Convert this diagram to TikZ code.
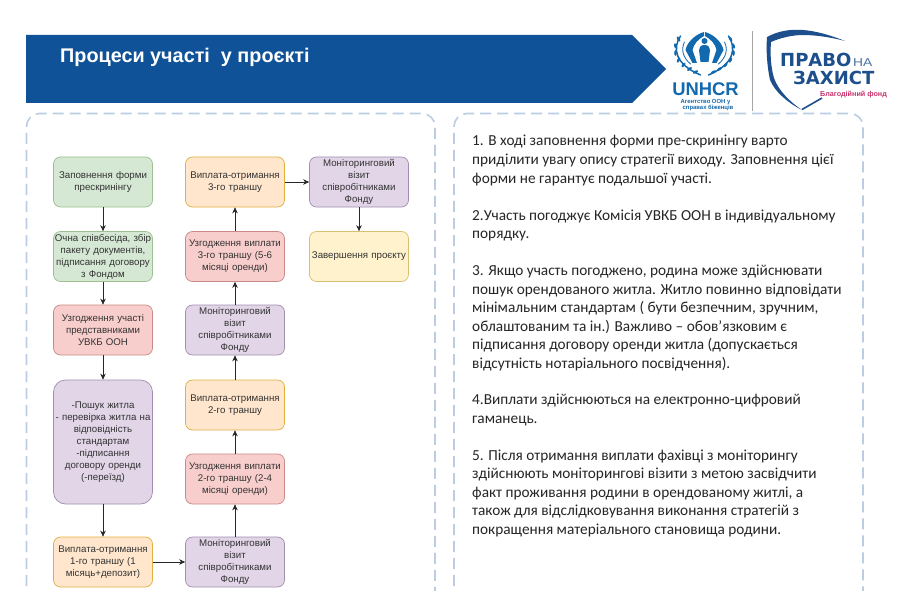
\documentclass[tikz,border=0pt]{standalone}
\usepackage{fontspec}
\setmainfont{Liberation Sans}
\newfontfamily\calib{Carlito}
\newfontfamily\dvb{DejaVu Sans Bold}
\newfontfamily\naf[FakeStretch=1.2]{Liberation Sans}
\usetikzlibrary{arrows.meta}
\definecolor{bann}{HTML}{0F5298}
\definecolor{dashc}{HTML}{BCCDE3}
\definecolor{gf}{HTML}{D5E8D4}\definecolor{gd}{HTML}{9DBF8F}
\definecolor{rf}{HTML}{F8CECC}\definecolor{rd}{HTML}{C98A87}
\definecolor{pf}{HTML}{E1D5E7}\definecolor{pd}{HTML}{A08FB0}
\definecolor{of}{HTML}{FFE6CC}\definecolor{od}{HTML}{E0B040}
\definecolor{yf}{HTML}{FFF2CC}\definecolor{yd}{HTML}{D9C070}
\definecolor{txt}{HTML}{333333}
\definecolor{unb}{HTML}{1269AE}
\definecolor{pz}{HTML}{1D4F8C}
\definecolor{pzr}{HTML}{C8326A}
\tikzset{
 flow/.style={draw,rounded corners=7pt,line width=0.7pt,minimum width=99pt,minimum height=50pt,inner sep=0pt,align=center,text width=99pt,font=\fontsize{9.7}{12}\selectfont,text=txt},
 gbox/.style={flow,fill=gf,draw=gd},
 rbox/.style={flow,fill=rf,draw=rd},
 pbox/.style={flow,fill=pf,draw=pd},
 obox/.style={flow,fill=of,draw=od},
 ybox/.style={flow,fill=yf,draw=yd},
 link/.style={draw=black!85,line width=0.7pt,-{Stealth[length=6pt,width=5.5pt]}},
 frame/.style={draw=dashc,line width=1.6pt,dash pattern=on 11pt off 6pt,rounded corners=13pt},
 para/.style={anchor=base west,inner sep=0pt,font=\calib\fontsize{15.3}{18.5}\selectfont,text=black!85}
}
\begin{document}
\begin{tikzpicture}[x=1pt,y=-1pt]
\useasboundingbox (0,0) rectangle (900,591);
\fill[white] (0,0) rectangle (900,591);
% banner
\fill[bann] (26,35) -- (632,35) -- (666,69) -- (632,103) -- (26,103) -- cycle;
\node[anchor=base west,inner sep=0pt,text=white,font=\bfseries\fontsize{19.8}{22}\selectfont] (title) at (60,63) {Процеси участі\ \ у проєкті};
% frames
\begin{scope}
\clip (0,0) rectangle (900,591);
\draw[frame] (26.5,620) -- (26.5,113.5) -- (435,113.5) -- (435,620);
\draw[frame] (454,620) -- (454,113.5) -- (863,113.5) -- (863,620);
\end{scope}
% flow
\node[gbox] (a1) at (103,182) {Заповнення форми\\[0.5pt]прескринінгу};
\node[gbox] (a2) at (103,256.5) {Очна співбесіда, збір\\пакету документів,\\підписання договору\\з Фондом};
\node[rbox] (a3) at (103,330) {Узгодження участі\\представниками\\УВКБ ООН};
\node[pbox,minimum height=124pt,rounded corners=12pt] (a4) at (103,442) {-Пошук житла\\- перевірка житла на\\відповідність\\стандартам\\-підписання\\договору оренди\\(-переїзд)};
\node[obox] (a5) at (103,562) {Виплата-отримання\\1-го траншу (1\\місяць+депозит)};
\node[pbox] (b1) at (235,562) {Моніторинговий\\візит\\співробітниками\\Фонду};
\node[rbox] (b2) at (235,479) {Узгодження виплати\\2-го траншу (2-4\\місяці оренди)};
\node[obox] (b3) at (235,405) {Виплата-отримання\\2-го траншу};
\node[pbox] (b4) at (235,330) {Моніторинговий\\візит\\співробітниками\\Фонду};
\node[rbox] (b5) at (235,256.5) {Узгодження виплати\\3-го траншу (5-6\\місяці оренди)};
\node[obox] (b6) at (235,182) {Виплата-отримання\\3-го траншу};
\node[pbox] (c1) at (359,182) {Моніторинговий\\візит\\співробітниками\\Фонду};
\node[ybox] (c2) at (359,256.5) {Завершення проєкту};
\draw[link] (a1) -- (a2);
\draw[link] (a2) -- (a3);
\draw[link] (a3) -- (a4);
\draw[link] (a4) -- (a5);
\draw[link] (a5) -- (b1);
\draw[link] (b1) -- (b2);
\draw[link] (b2) -- (b3);
\draw[link] (b3) -- (b4);
\draw[link] (b4) -- (b5);
\draw[link] (b5) -- (b6);
\draw[link] (b6) -- (c1);
\draw[link] (c1) -- (c2);
% right text
\node[para] (t1) at (472,146) {1. В ході заповнення форми пре-скринінгу варто};
\node[para] (t2) at (472,164.5) {приділити увагу опису стратегії виходу. Заповнення цієї};
\node[para] (t3) at (472,183) {форми не гарантує подальшої участі.};
\node[para] (t4) at (472,220) {2.Участь погоджує Комісія УВКБ ООН в індивідуальному};
\node[para] (t5) at (472,238) {порядку.};
\node[para] (t6) at (472,275) {3. Якщо участь погоджено, родина може здійснювати};
\node[para] (t7) at (472,294) {пошук орендованого житла. Житло повинно відповідати};
\node[para] (t8) at (472,312) {мінімальним стандартам ( бути безпечним, зручним,};
\node[para] (t9) at (472,331) {облаштованим та ін.) Важливо – обов’язковим є};
\node[para] (t10) at (472,349) {підписання договору оренди житла (допускається};
\node[para] (t11) at (472,368) {відсутність нотаріального посвідчення).};
\node[para] (t12) at (472,404) {4.Виплати здійснюються на електронно-цифровий};
\node[para] (t13) at (472,423) {гаманець.};
\node[para] (t14) at (472,460) {5. Після отримання виплати фахівці з моніторингу};
\node[para] (t15) at (472,478) {здійснюють моніторингові візити з метою засвідчити};
\node[para] (t16) at (472,497) {факт проживання родини в орендованому житлі, а};
\node[para] (t17) at (472,515) {також для відслідковування виконання стратегій з};
\node[para] (t18) at (472,534) {покращення матеріального становища родини.};
% UNHCR logo
\foreach \s/\c in {1/704.5,-1/704.5}{
 \begin{scope}[shift={(\c,0)},x=\s pt]
  \fill[unb] (-0.5,32) .. controls (-8,34) and (-17,41) .. (-19,50) -- (-12,63) -- (-7.5,63) -- (-12,50) .. controls (-11,44) and (-6,39) .. (-0.5,36) -- cycle;
  \draw[unb,line width=0.8pt,line cap=round] (-20,42) .. controls (-24,50) and (-21,58) .. (-14,64);
  \draw[unb,line width=1.5pt,line cap=round] (-24,36) .. controls (-32,48) and (-30,64) .. (-4,75);
  \foreach \q/\a in {(-26,39)/-60,(-29,46)/-75,(-29,53)/-90,(-26,60)/-115,(-21,65)/-130,(-15,69)/-145,(-9,72)/-155}
   \fill[unb,rotate around={\a:\q}] \q ellipse (2.8 and 1.3);
 \end{scope}
}
\fill[unb] (704.5,41) circle (3);
\fill[unb] (704.5,45) .. controls (701,45) and (699,47) .. (699,50) -- (700.5,62) -- (708.5,62) -- (710,50) .. controls (710,47) and (708,45) .. (704.5,45) -- cycle;
\node[anchor=base,inner sep=0pt,text=unb,font=\bfseries\fontsize{18.4}{19}\selectfont] (unhcr) at (705.5,95.5) {UNHCR};
\node[anchor=base,inner sep=0pt,text=unb,font=\bfseries\fontsize{5.9}{7}\selectfont] (ag1) at (705.5,103.5) {Агентство ООН у};
\node[anchor=base,inner sep=0pt,text=unb,font=\bfseries\fontsize{5.9}{7}\selectfont] (ag2) at (708,110) {справах біженців};
\draw[black!35,line width=1pt] (752,31) -- (752,111);
% Pravo logo
\fill[pz] (767,37) .. controls (778,31) and (790,29) .. (803,30) .. controls (816,31) and (830,35) .. (845,41) .. controls (830,37) and (815,35) .. (803,35) .. controls (792,35) and (780,38) .. (771,42) .. controls (770,55) and (771,68) .. (774,78) .. controls (778,90) and (790,102) .. (802,110) .. controls (788,103) and (775,92) .. (770,80) .. controls (767,66) and (766,50) .. (767,37) -- cycle;
\draw[pz,line width=1.6pt] (802,109.5) -- (822,98);
\node[anchor=base west,inner sep=0pt,text=pz,font=\dvb\fontsize{18}{19}\selectfont] (pr) at (780,67) {ПРАВО};
\node[anchor=base west,inner sep=0pt,text=pz!80,font=\naf\fontsize{11.5}{12}\selectfont] (na) at (853,67) {НА};
\node[anchor=base west,inner sep=0pt,text=pz,font=\dvb\fontsize{18}{19}\selectfont] (zx) at (793,85) {ЗАХИСТ};
\node[anchor=base west,inner sep=0pt,text=pzr,font=\bfseries\fontsize{7.2}{8}\selectfont] (bf) at (820,97) {Благодійний фонд};
\end{tikzpicture}
\end{document}
